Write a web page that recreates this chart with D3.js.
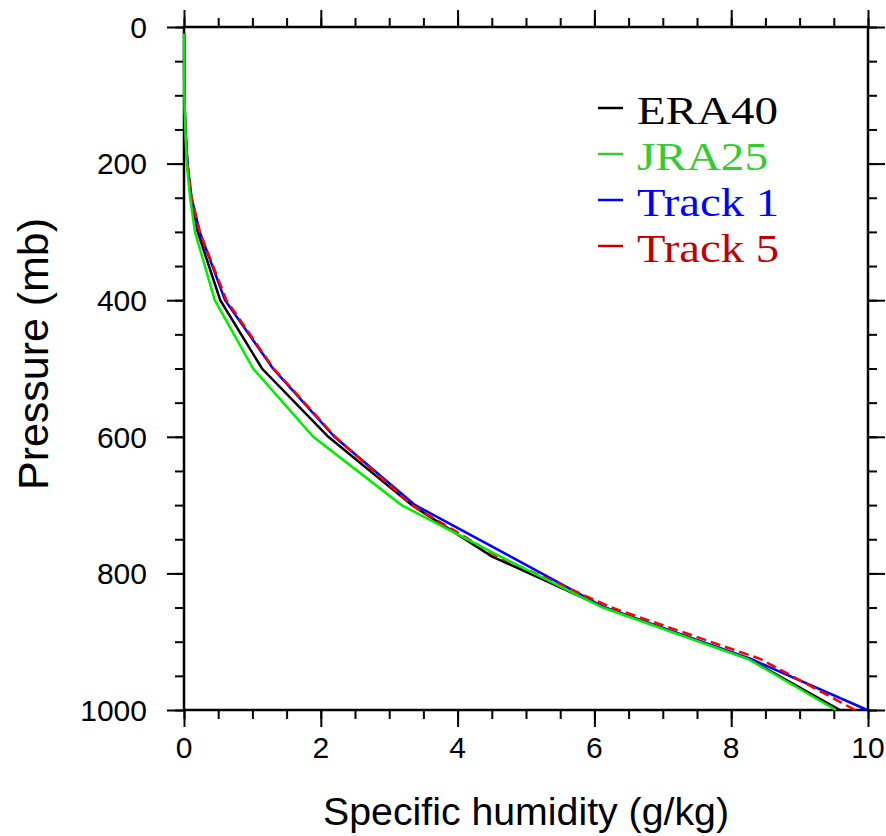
<!DOCTYPE html>
<html>
<head>
<meta charset="utf-8">
<script src="https://cdn.jsdelivr.net/npm/d3@7"></script>
<style>
  body { margin: 0; background: #fff; }
  svg text { font-family: "Liberation Sans", Arial, sans-serif; }
  svg text.legendText { font-family: "Liberation Serif", "Times New Roman", serif; }
</style>
</head>
<body>
<div id="chart"></div>
<script>
// pressure levels (mb) and specific humidity (g/kg) per dataset
var levels = [1000, 925, 850, 775, 700, 600, 500, 400, 300, 250, 200, 150, 100, 70, 50, 30, 20, 10];
var era40  = [9.59, 8.25, 6.15, 4.50, 3.33, 2.11, 1.14, 0.53, 0.20, 0.10, 0.05, 0.02, 0.005, 0.003, 0.003, 0.003, 0.003, 0.003];
var jra25  = [9.53, 8.24, 6.12, 4.62, 3.18, 1.89, 1.01, 0.45, 0.16, 0.09, 0.04, 0.02, 0.005, 0.003, 0.003, 0.003, 0.003, 0.003];
var track1 = [9.99, 8.28, 6.15, 4.77, 3.38, 2.20, 1.30, 0.60, 0.23, 0.11, 0.05, 0.02, 0.005, 0.003, 0.003, 0.003, 0.003, 0.003];
var track5 = [9.81, 8.42, 6.25, 4.58, 3.33, 2.21, 1.31, 0.62, 0.23, 0.11, 0.05, 0.02, 0.005, 0.003, 0.003, 0.003, 0.003, 0.003];

var seriesNames = ["ERA40", "JRA25", "Track 1", "Track 5"];
var xTicks = [0, 2, 4, 6, 8, 10];
var yTicks = [0, 200, 400, 600, 800, 1000];

var svgWidth = 886;
var svgHeight = 836;
var margin = { top: 27, right: 18, bottom: 126, left: 184 };
var width = svgWidth - margin.left - margin.right;
var height = svgHeight - margin.top - margin.bottom;

var svg = d3.select("#chart")
    .append("svg")
    .attr("width", svgWidth)
    .attr("height", svgHeight);

var chartGroup = svg.append("g")
    .attr("transform", `translate(${margin.left}, ${margin.top})`);

var xScale = d3.scaleLinear().domain([0, 10]).range([0, width]);
var yScale = d3.scaleLinear().domain([0, 1000]).range([0, height]);

// minor + major ticks (outward, all four sides)
function drawTicks(g, axisGen, major, minor) {
    g.call(axisGen.tickValues(minor).tickSize(9).tickFormat(""));
    g.append("g").call(axisGen.tickValues(major).tickSize(17).tickFormat(""));
    g.selectAll(".domain").remove();
    g.selectAll("line").attr("stroke", "#000").attr("stroke-width", 2);
}
var xMinor = d3.range(0, 10.01, 0.5);
var yMinor = d3.range(0, 1000.1, 50);

drawTicks(chartGroup.append("g").attr("transform", `translate(0, ${height})`),
    d3.axisBottom(xScale), xTicks, xMinor);
drawTicks(chartGroup.append("g"), d3.axisTop(xScale), xTicks, xMinor);
drawTicks(chartGroup.append("g"), d3.axisLeft(yScale), yTicks, yMinor);
drawTicks(chartGroup.append("g").attr("transform", `translate(${width}, 0)`),
    d3.axisRight(yScale), yTicks, yMinor);

// frame
chartGroup.append("rect")
    .attr("width", width)
    .attr("height", height)
    .attr("fill", "none")
    .attr("stroke", "#000")
    .attr("stroke-width", 2.5);

// tick labels
chartGroup.selectAll(".xlab")
    .data(xTicks)
    .enter()
    .append("text")
    .attr("x", d => xScale(d))
    .attr("y", height + 48)
    .attr("text-anchor", "middle")
    .attr("font-size", 30)
    .text(d => d);

chartGroup.selectAll(".ylab")
    .data(yTicks)
    .enter()
    .append("text")
    .attr("x", -37)
    .attr("y", d => yScale(d))
    .attr("dy", "0.36em")
    .attr("text-anchor", "end")
    .attr("font-size", 30)
    .text(d => d);

// profiles
var lineData = [
    { name: "ERA40", values: era40, color: "#000000", dash: null },
    { name: "Track 1", values: track1, color: "#0000ff", dash: null },
    { name: "Track 5", values: track5, color: "#ff0000", dash: "10,5" },
    { name: "JRA25", values: jra25, color: "#00ee00", dash: null }
];

var line = d3.line()
    .x(d => xScale(d[1]))
    .y(d => yScale(d[0]));

chartGroup.selectAll(".profile")
    .data(lineData)
    .enter()
    .append("path")
    .attr("d", d => line(levels.map((p, i) => [p, d.values[i]])))
    .attr("fill", "none")
    .attr("stroke", d => d.color)
    .attr("stroke-width", 2.5)
    .attr("stroke-dasharray", d => d.dash);

// axis titles
svg.append("text")
    .attr("x", margin.left + width / 2)
    .attr("y", 825)
    .attr("text-anchor", "middle")
    .attr("font-size", 38)
    .attr("textLength", 406)
    .attr("lengthAdjust", "spacingAndGlyphs")
    .text("Specific humidity (g/kg)");

svg.append("text")
    .attr("transform", "translate(48, 354) rotate(-90)")
    .attr("text-anchor", "middle")
    .attr("font-size", 42)
    .attr("textLength", 272)
    .attr("lengthAdjust", "spacingAndGlyphs")
    .text("Pressure (mb)");

// legend
var legendColors = ["#000000", "#33cc33", "#0000ff", "#c00000"];
var legendWidths = [141, 131, 142, 142];
var legend = svg.append("g").attr("transform", "translate(598, 124)");
var items = legend.selectAll("g")
    .data(seriesNames)
    .enter()
    .append("g")
    .attr("transform", (d, i) => `translate(0, ${i * 46})`);

items.append("line")
    .attr("x1", 0).attr("x2", 25)
    .attr("y1", -16).attr("y2", -16)
    .attr("stroke", (d, i) => legendColors[i])
    .attr("stroke-width", 2.5);

items.append("text")
    .attr("class", "legendText")
    .attr("x", 39)
    .attr("y", 0)
    .attr("font-size", 40)
    .attr("textLength", (d, i) => legendWidths[i])
    .attr("lengthAdjust", "spacingAndGlyphs")
    .attr("fill", (d, i) => legendColors[i])
    .text(d => d);
</script>
</body>
</html>
